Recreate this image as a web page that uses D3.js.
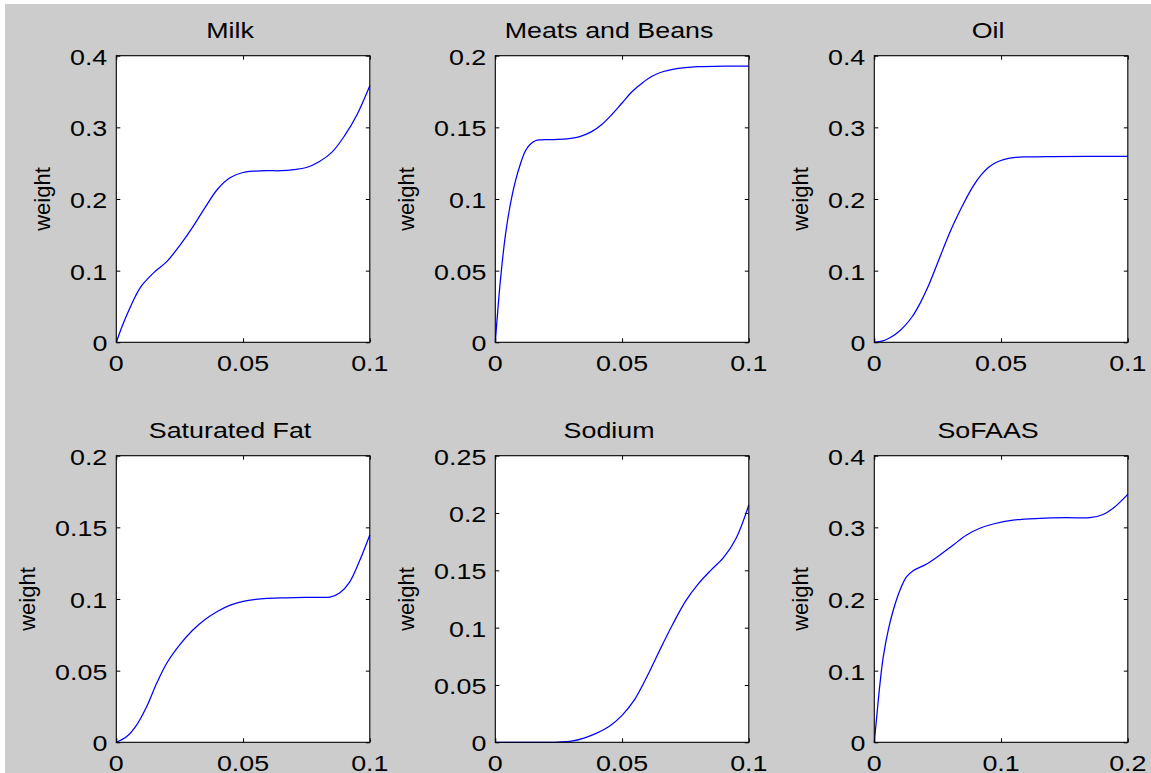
<!DOCTYPE html>
<html>
<head>
<meta charset="utf-8">
<script src="https://cdn.jsdelivr.net/npm/d3@7"></script>
<style>
  html, body { margin: 0; padding: 0; background: #ffffff; }
  svg { display: block; }
  text { font-family: "Liberation Sans", Arial, Helvetica, sans-serif; fill: #000; }
</style>
</head>
<body>
<svg id="chart" width="1151" height="773"></svg>
<script>
// ---------- data ----------
const titles = ["Milk", "Meats and Beans", "Oil", "Saturated Fat", "Sodium", "SoFAAS"];
const yLabel = "weight";

const milkX = [0, 0.0025, 0.005, 0.0075, 0.01, 0.015, 0.02, 0.025, 0.03, 0.035, 0.04, 0.045, 0.05, 0.055, 0.06, 0.065, 0.07, 0.075, 0.08, 0.085, 0.09, 0.095, 0.1];
const milkY = [0, 0.024, 0.045, 0.064, 0.079, 0.098, 0.113, 0.135, 0.160, 0.188, 0.214, 0.230, 0.237, 0.239, 0.2395, 0.2395, 0.241, 0.244, 0.252, 0.265, 0.288, 0.318, 0.358];

const meatsX = [0, 0.002, 0.004, 0.006, 0.008, 0.010, 0.012, 0.014, 0.016, 0.018, 0.022, 0.028, 0.033, 0.038, 0.042, 0.046, 0.050, 0.054, 0.058, 0.062, 0.066, 0.070, 0.075, 0.080, 0.090, 0.1];
const meatsY = [0, 0.043, 0.075, 0.097, 0.113, 0.125, 0.134, 0.1385, 0.1408, 0.1413, 0.1414, 0.1419, 0.1433, 0.147, 0.152, 0.159, 0.167, 0.175, 0.181, 0.1858, 0.1888, 0.1905, 0.1917, 0.1923, 0.1927, 0.1928];

const oilX = [0, 0.003, 0.006, 0.009, 0.012, 0.015, 0.018, 0.021, 0.024, 0.027, 0.030, 0.033, 0.036, 0.039, 0.042, 0.045, 0.048, 0.051, 0.055, 0.06, 0.07, 0.1];
const oilY = [0, 0.0015, 0.006, 0.013, 0.023, 0.036, 0.054, 0.076, 0.102, 0.129, 0.155, 0.178, 0.199, 0.218, 0.233, 0.244, 0.251, 0.255, 0.2578, 0.2588, 0.2593, 0.2595];

const satFatX = [0, 0.004, 0.008, 0.012, 0.016, 0.020, 0.025, 0.030, 0.035, 0.040, 0.045, 0.050, 0.055, 0.060, 0.065, 0.070, 0.080, 0.0843, 0.0882, 0.0921, 0.0961, 0.1];
const satFatY = [0, 0.0038, 0.012, 0.025, 0.0415, 0.0555, 0.068, 0.078, 0.0857, 0.0915, 0.0957, 0.0983, 0.0997, 0.1004, 0.1008, 0.101, 0.1012, 0.1013, 0.1044, 0.112, 0.1272, 0.1447];

const sodiumX = [0, 0.01, 0.02, 0.025, 0.03, 0.035, 0.04, 0.045, 0.05, 0.055, 0.06, 0.065, 0.07, 0.075, 0.08, 0.085, 0.09, 0.095, 0.1];
const sodiumY = [0, 0, 0, 0.0002, 0.001, 0.0037, 0.008, 0.014, 0.0235, 0.0375, 0.058, 0.081, 0.103, 0.123, 0.138, 0.150, 0.161, 0.178, 0.207];

const sofaasX = [0, 0.0019, 0.0045, 0.0071, 0.011, 0.015, 0.0203, 0.0255, 0.0307, 0.0413, 0.0518, 0.0623, 0.0728, 0.0833, 0.0938, 0.1096, 0.1306, 0.1517, 0.17, 0.1805, 0.1884, 0.2];
const sofaasY = [0, 0.0357, 0.0823, 0.1195, 0.1567, 0.1846, 0.2126, 0.2311, 0.2395, 0.2488, 0.2614, 0.2754, 0.2893, 0.2987, 0.3047, 0.3102, 0.3126, 0.3135, 0.3135, 0.318, 0.3266, 0.346];

const seriesX = [milkX, meatsX, oilX, satFatX, sodiumX, sofaasX];
const seriesY = [milkY, meatsY, oilY, satFatY, sodiumY, sofaasY];

const xTicks = [[0, 0.05, 0.1], [0, 0.05, 0.1], [0, 0.05, 0.1], [0, 0.05, 0.1], [0, 0.05, 0.1], [0, 0.1, 0.2]];
const xTickLabels = [["0", "0.05", "0.1"], ["0", "0.05", "0.1"], ["0", "0.05", "0.1"], ["0", "0.05", "0.1"], ["0", "0.05", "0.1"], ["0", "0.1", "0.2"]];
const yTicks = [
  [0, 0.1, 0.2, 0.3, 0.4],
  [0, 0.05, 0.1, 0.15, 0.2],
  [0, 0.1, 0.2, 0.3, 0.4],
  [0, 0.05, 0.1, 0.15, 0.2],
  [0, 0.05, 0.1, 0.15, 0.2, 0.25],
  [0, 0.1, 0.2, 0.3, 0.4]
];
const yTickLabels = [
  ["0", "0.1", "0.2", "0.3", "0.4"],
  ["0", "0.05", "0.1", "0.15", "0.2"],
  ["0", "0.1", "0.2", "0.3", "0.4"],
  ["0", "0.05", "0.1", "0.15", "0.2"],
  ["0", "0.05", "0.1", "0.15", "0.2", "0.25"],
  ["0", "0.1", "0.2", "0.3", "0.4"]
];
const xMax = [0.1, 0.1, 0.1, 0.1, 0.1, 0.2];
const yMax = [0.4, 0.2, 0.4, 0.2, 0.25, 0.4];

// ---------- layout ----------
const W = 1151, H = 773;
const colLeft = [116.3, 495.3, 874.3];
const rowTop = [55.7, 455.7];
const pw = 253.5, ph = 286.6;
const fs = 22, sx = 1.22;

const svg = d3.select("#chart");
svg.append("rect").attr("x", 0).attr("y", 0).attr("width", W).attr("height", H).attr("fill", "#ffffff");
svg.append("rect").attr("x", 5).attr("y", 4).attr("width", W - 5).attr("height", H - 4).attr("fill", "#cccccc");

titles.forEach((title, i) => {
  const L = colLeft[i % 3], T = rowTop[Math.floor(i / 3)];
  const x = d3.scaleLinear().domain([0, xMax[i]]).range([L, L + pw]);
  const y = d3.scaleLinear().domain([0, yMax[i]]).range([T + ph, T]);
  const g = svg.append("g");

  g.append("rect").attr("x", L).attr("y", T).attr("width", pw).attr("height", ph)
    .attr("fill", "#ffffff");

  // inward ticks on all four sides
  const tk = 4;
  const addAxis = (axis, tx, ty) => {
    const a = g.append("g").attr("transform", `translate(${tx},${ty})`).call(axis);
    a.select(".domain").remove();
    a.selectAll(".tick line").attr("stroke", "#000").attr("stroke-width", 1);
    a.selectAll(".tick text").remove();
  };
  addAxis(d3.axisBottom(x).tickValues(xTicks[i]).tickSize(-tk).tickSizeOuter(0).tickFormat(""), 0, T + ph);
  addAxis(d3.axisTop(x).tickValues(xTicks[i]).tickSize(-tk).tickSizeOuter(0).tickFormat(""), 0, T);
  addAxis(d3.axisLeft(y).tickValues(yTicks[i]).tickSize(-tk).tickSizeOuter(0).tickFormat(""), L, 0);
  addAxis(d3.axisRight(y).tickValues(yTicks[i]).tickSize(-tk).tickSizeOuter(0).tickFormat(""), L + pw, 0);

  // curve
  const pts = seriesX[i].map((v, k) => [v, seriesY[i][k]]);
  g.append("path").datum(pts)
    .attr("fill", "none").attr("stroke", "#0000ff").attr("stroke-width", 1.25)
    .attr("d", d3.line().x(d => x(d[0])).y(d => Math.min(y(d[1]), T + ph)).curve(d3.curveCatmullRom.alpha(0.5)));

  // box
  g.append("rect").attr("x", L).attr("y", T).attr("width", pw).attr("height", ph)
    .attr("fill", "none").attr("stroke", "#000").attr("stroke-width", 1.1);

  // x tick labels
  xTicks[i].forEach((v, k) => {
    g.append("text")
      .attr("transform", `translate(${x(v)},${T + ph + 28.5}) scale(${sx},1)`)
      .attr("text-anchor", "middle").attr("font-size", fs)
      .text(xTickLabels[i][k]);
  });

  // y tick labels
  let maxW = 0;
  yTicks[i].forEach((v, k) => {
    const t = g.append("text")
      .attr("transform", `translate(${L - 9},${y(v) + 9}) scale(${sx},1)`)
      .attr("text-anchor", "end").attr("font-size", fs)
      .text(yTickLabels[i][k]);
    maxW = Math.max(maxW, t.node().getComputedTextLength() * sx);
  });

  // y label
  const cx = L - 9 - maxW - 26;
  g.append("text")
    .attr("transform", `translate(${cx + 5.7},${T + ph / 2}) rotate(-90)`)
    .attr("text-anchor", "middle").attr("font-size", fs)
    .text(yLabel);

  // title
  g.append("text")
    .attr("transform", `translate(${L + pw / 2 - 13},${T - 18}) scale(${sx},1)`)
    .attr("text-anchor", "middle").attr("font-size", fs)
    .text(title);
});
</script>
</body>
</html>
